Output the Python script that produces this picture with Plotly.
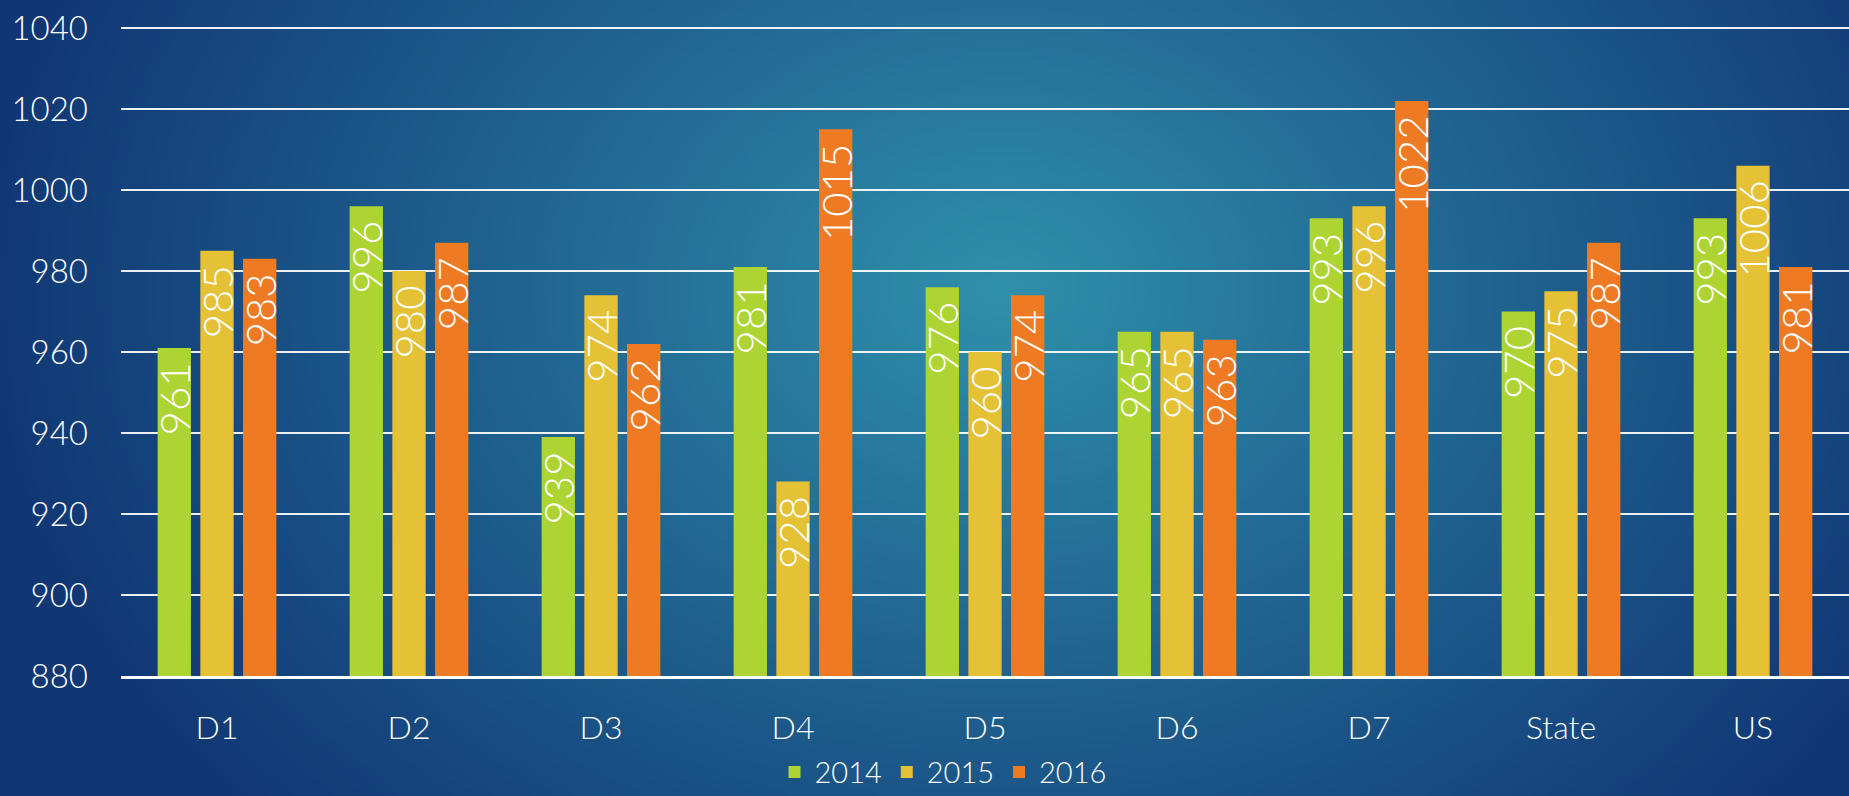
import base64, struct, zlib
import numpy as np
import plotly.graph_objects as go

categories = ["D1", "D2", "D3", "D4", "D5", "D6", "D7", "State", "US"]
years = ["2014", "2015", "2016"]
values_2014 = [961, 996, 939, 981, 976, 965, 993, 970, 993]
values_2015 = [985, 980, 974, 928, 960, 965, 996, 975, 1006]
values_2016 = [983, 987, 962, 1015, 974, 963, 1022, 987, 981]
colors = ["#ADD433", "#E5C136", "#EE7B24"]
y_ticks = [880, 900, 920, 940, 960, 980, 1000, 1020, 1040]

W, H = 1849, 796
ML, MR, MT, MB = 121, 0, 26, 120
FONT = "Lato, 'Open Sans', sans-serif"


def gradient_png(w=370, h=160):
    yy, xx = np.mgrid[0:h, 0:w]
    cx, cy = 0.54 * w, 0.36 * h
    rx, ry = 0.56 * w, 1.0 * h
    d = np.sqrt(((xx - cx) / rx) ** 2 + ((yy - cy) / ry) ** 2)
    t = np.clip(d, 0, 1) ** 0.95
    c0 = np.array([48, 145, 172], dtype=float)
    c1 = np.array([16, 54, 116], dtype=float)
    img = c0[None, None, :] * (1 - t[..., None]) + c1[None, None, :] * t[..., None]
    img = np.clip(img, 0, 255).astype(np.uint8)
    raw = b"".join(b"\x00" + img[r].tobytes() for r in range(h))

    def chunk(tag, data):
        c = struct.pack(">I", len(data)) + tag + data
        return c + struct.pack(">I", zlib.crc32(tag + data) & 0xFFFFFFFF)

    png = b"\x89PNG\r\n\x1a\n"
    png += chunk(b"IHDR", struct.pack(">IIBBBBB", w, h, 8, 2, 0, 0, 0))
    png += chunk(b"IDAT", zlib.compress(raw, 9))
    png += chunk(b"IEND", b"")
    return "data:image/png;base64," + base64.b64encode(png).decode()


fig = go.Figure()
for name, vals, col in zip(years, [values_2014, values_2015, values_2016], colors):
    fig.add_trace(go.Bar(
        x=categories, y=vals, name=name,
        marker=dict(color=col, line=dict(width=0)),
        text=[str(v) + "\u00a0" for v in vals],
        textposition="inside", insidetextanchor="end", textangle=-90,
        constraintext="none",
        insidetextfont=dict(color="white", size=42, family=FONT, weight=300),
        hoverinfo="x+y+name",
    ))

pw = W - ML - MR
ph = H - MT - MB
fig.add_layout_image(dict(
    source=gradient_png(), xref="paper", yref="paper",
    x=-ML / pw, y=1 + MT / ph, sizex=W / pw, sizey=H / ph,
    xanchor="left", yanchor="top", sizing="stretch", layer="below",
))

fig.update_layout(
    width=W, height=H,
    margin=dict(l=ML, r=MR, t=MT, b=MB, pad=0),
    paper_bgcolor="#1A4F86", plot_bgcolor="rgba(0,0,0,0)",
    barmode="group", bargap=0.333, bargroupgap=0.22,
    font=dict(family=FONT, color="white", size=30, weight=300),
    showlegend=True,
    legend=dict(
        orientation="h", xref="container", yref="container",
        x=0.51, y=0.03, xanchor="center", yanchor="middle",
        font=dict(size=29, color="white", family=FONT, weight=300),
        bgcolor="rgba(0,0,0,0)", itemclick=False,
    ),
    xaxis=dict(
        showgrid=False, showline=True, linecolor="white", linewidth=2.5,
        tickfont=dict(size=32, color="white", family=FONT, weight=300),
        ticks="", ticklabelstandoff=22,
    ),
    yaxis=dict(
        range=[880, 1040.5], tickvals=y_ticks,
        showgrid=True, gridcolor="rgba(255,255,255,0.92)", gridwidth=1.6,
        zeroline=False, showline=False,
        tickfont=dict(size=33, color="white", family=FONT, weight=300),
        ticks="", ticklabelstandoff=32,
    ),
)

fig.write_html(
    "out.html",
    config={"displayModeBar": False},
    post_script="document.body.style.margin='0';document.body.style.overflow='hidden';",
)
